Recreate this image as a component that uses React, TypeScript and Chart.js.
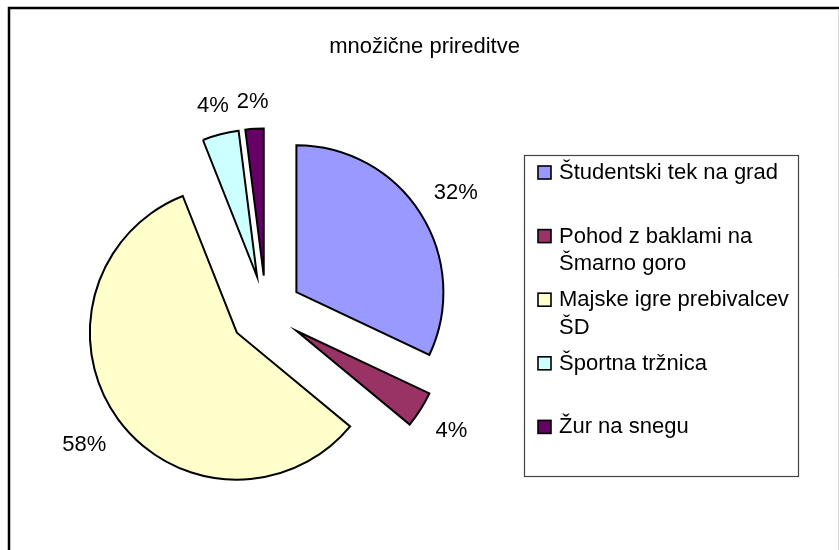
import React, { useEffect, useRef } from "react";
import { Chart, registerables } from "chart.js";

Chart.register(...registerables);

const TITLE = "množične prireditve";
const categories = [
  "Študentski tek na grad",
  "Pohod z baklami na Šmarno goro",
  "Majske igre prebivalcev ŠD",
  "Športna tržnica",
  "Žur na snegu",
];
const shares = [32, 4, 58, 4, 2];
const colors = ["#9999FF", "#993366", "#FFFFCC", "#CCFFFF", "#660066"];

const FONT_FAMILY = '"Liberation Sans", Arial, sans-serif';
const FONT = `22px ${FONT_FAMILY}`;

const explodePlugin = {
  id: "explodeSlices",
  beforeDatasetsDraw(chart: any, _args: any, opts: any) {
    const meta = chart.getDatasetMeta(0);
    const a = chart.chartArea;
    const cx = (a.left + a.right) / 2;
    const cy = (a.top + a.bottom) / 2;
    meta.data.forEach((el: any) => {
      const mid = (el.startAngle + el.endAngle) / 2;
      el.x = cx + Math.cos(mid) * opts.distance;
      el.y = cy + Math.sin(mid) * opts.distance;
    });
  },
};

const percentLabelsPlugin = {
  id: "percentLabels",
  afterDatasetsDraw(chart: any, _args: any, opts: any) {
    const ctx = chart.ctx;
    const meta = chart.getDatasetMeta(0);
    const data = chart.data.datasets[0].data as number[];
    const total = data.reduce((s, v) => s + v, 0);
    ctx.save();
    ctx.font = FONT;
    ctx.fillStyle = "#000";
    ctx.textAlign = "center";
    ctx.textBaseline = "alphabetic";
    const capH = 16;
    meta.data.forEach((el: any, i: number) => {
      const txt = Math.round((data[i] / total) * 100) + "%";
      const w = ctx.measureText(txt).width;
      const mid = (el.startAngle + el.endAngle) / 2;
      const c = Math.cos(mid);
      const s = Math.sin(mid);
      const ext = Math.abs(c) * (w / 2) + Math.abs(s) * (capH / 2);
      const d = el.outerRadius + opts.gap + ext;
      const x = el.x + c * d;
      const y = el.y + s * d;
      ctx.fillText(txt, x, y + capH / 2 - 0.5);
    });
    ctx.restore();
  },
};

const decorPlugin = {
  id: "decor",
  afterDraw(chart: any) {
    const ctx = chart.ctx;
    ctx.save();
    // outer frame (cropped at right/bottom)
    ctx.strokeStyle = "#000";
    ctx.lineWidth = 2.5;
    ctx.beginPath();
    ctx.moveTo(9, 550);
    ctx.lineTo(9, 8);
    ctx.lineTo(839, 8);
    ctx.stroke();
    ctx.strokeStyle = "#d8d8d8";
    ctx.lineWidth = 1;
    ctx.beginPath();
    ctx.moveTo(838.5, 9);
    ctx.lineTo(838.5, 550);
    ctx.stroke();

    // title
    ctx.font = FONT;
    ctx.fillStyle = "#000";
    ctx.textAlign = "center";
    ctx.textBaseline = "alphabetic";
    ctx.fillText(TITLE, 424.5, 53);

    // legend box
    ctx.strokeStyle = "#444";
    ctx.lineWidth = 1.2;
    ctx.strokeRect(524.5, 155.5, 274, 321);

    const labels = chart.data.labels as string[];
    const bg = chart.data.datasets[0].backgroundColor as string[];
    const textX = 559;
    const maxW = 798 - textX - 2;
    ctx.textAlign = "left";
    labels.forEach((lab, i) => {
      const words = lab.split(" ");
      const lines: string[] = [];
      let cur = "";
      words.forEach((w) => {
        const t = cur ? cur + " " + w : w;
        if (ctx.measureText(t).width > maxW && cur) {
          lines.push(cur);
          cur = w;
        } else cur = t;
      });
      if (cur) lines.push(cur);
      const base = 179 + 63.6 * i;
      ctx.fillStyle = bg[i];
      ctx.fillRect(538, base - 13, 13, 13);
      ctx.strokeStyle = "#000";
      ctx.lineWidth = 1.6;
      ctx.strokeRect(538, base - 13, 13, 13);
      ctx.fillStyle = "#000";
      lines.forEach((ln, j) => ctx.fillText(ln, textX, base + j * 27.8));
    });
    ctx.restore();
  },
};

export default function App() {
  const ref = useRef<HTMLCanvasElement | null>(null);
  useEffect(() => {
    if (!ref.current) return;
    const chart = new Chart(ref.current, {
      type: "pie",
      data: {
        labels: categories,
        datasets: [
          {
            data: shares,
            backgroundColor: colors,
            borderColor: "#000",
            borderWidth: 2,
            borderJoinStyle: "miter",
            radius: 147,
          } as any,
        ],
      },
      options: {
        responsive: false,
        animation: false,
        devicePixelRatio: 1,
        events: [],
        layout: { padding: { left: 0, right: 307, top: 73, bottom: 0 } },
        plugins: {
          legend: { display: false },
          title: { display: false },
          tooltip: { enabled: false },
          explodeSlices: { distance: 36 },
          percentLabels: { gap: 19 },
        } as any,
      },
      plugins: [explodePlugin, percentLabelsPlugin, decorPlugin],
    });
    return () => chart.destroy();
  }, []);
  return (
    <div style={{ position: "fixed", left: 0, top: 0, width: 839, height: 550, background: "#fff" }}>
      <canvas ref={ref} width={839} height={550} style={{ display: "block" }} />
    </div>
  );
}
